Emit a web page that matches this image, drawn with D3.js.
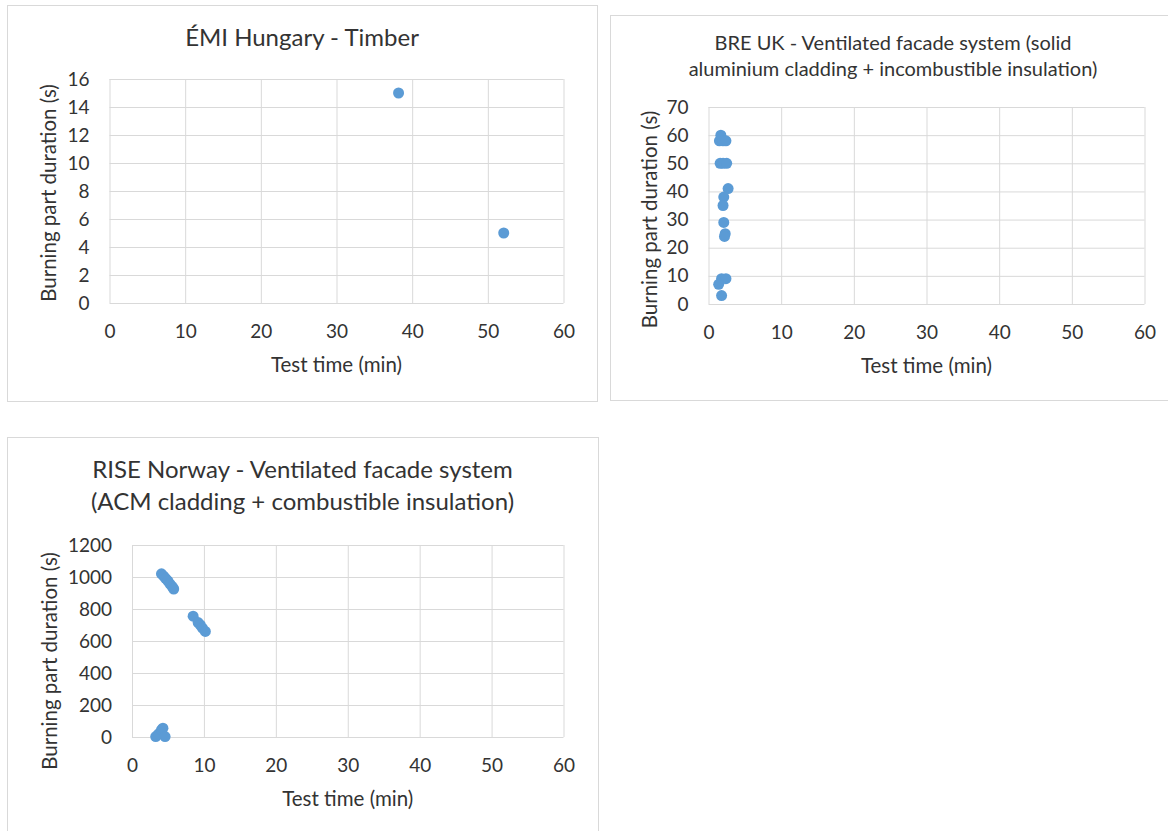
<!DOCTYPE html>
<html>
<head>
<meta charset="utf-8">
<script src="https://cdn.jsdelivr.net/npm/d3@7/dist/d3.min.js"></script>
<style>
  body { margin: 0; background: #fff; }
  text { font-family: Lato, "Open Sans", sans-serif; fill: #333; }
</style>
</head>
<body>
<div id="chart"></div>
<script>
// ---------------- DATA ----------------
var timberTime = [38.2, 52.1];
var timberBurn = [15, 5];

var breTime = [1.5, 1.7, 2.0, 2.4, 1.6, 2.0, 2.5, 2.7, 2.1, 2.0, 2.1, 2.3, 2.2, 1.8, 2.4, 1.4, 1.8];
var breBurn = [58, 60, 58, 58, 50, 50, 50, 41, 38, 35, 29, 25, 24, 9, 9, 7, 3];

var riseTime = [4.1, 4.4, 4.7, 5.0, 5.3, 5.6, 5.8, 8.5, 9.2, 9.5, 9.8, 10.2, 3.3, 3.7, 4.1, 4.3, 4.6];
var riseBurn = [1020, 1005, 990, 975, 955, 940, 925, 755, 715, 700, 680, 660, 3, 20, 45, 55, 3];

var timeTicks = [0, 10, 20, 30, 40, 50, 60];
var timberTicks = [0, 2, 4, 6, 8, 10, 12, 14, 16];
var breTicks = [0, 10, 20, 30, 40, 50, 60, 70];
var riseTicks = [0, 200, 400, 600, 800, 1000, 1200];

var xTitle = "Test time (min)";
var yTitle = "Burning part duration (s)";

// ---------------- SVG ----------------
var svg = d3.select("#chart")
    .append("svg")
    .attr("width", 1168)
    .attr("height", 831);

var dotColor = "#5b9bd5",
    gridColor = "#d9d9d9";

// one Excel-like scatter panel
function panel(cfg) {
    var g = svg.append("g");

    // chart area frame
    g.append("rect")
        .attr("x", cfg.frame[0] + 0.5).attr("y", cfg.frame[1] + 0.5)
        .attr("width", cfg.frame[2]).attr("height", cfg.frame[3])
        .attr("fill", "#fff")
        .attr("stroke", gridColor);

    var x = d3.scaleLinear().domain([0, 60]).range([cfg.plot[0], cfg.plot[2]]);
    var y = d3.scaleLinear().domain(cfg.yDomain).range([cfg.plot[3], cfg.plot[1]]);

    // gridlines
    g.append("g")
        .attr("transform", "translate(0," + cfg.plot[3] + ")")
        .call(d3.axisBottom(x).tickValues(timeTicks).tickSize(-(cfg.plot[3] - cfg.plot[1])).tickFormat(""))
        .call(function (a) { a.select(".domain").remove(); })
        .selectAll("line").attr("stroke", gridColor);

    g.append("g")
        .attr("transform", "translate(" + cfg.plot[0] + ",0)")
        .call(d3.axisLeft(y).tickValues(cfg.yTicks).tickSize(-(cfg.plot[2] - cfg.plot[0])).tickFormat(""))
        .call(function (a) { a.select(".domain").remove(); })
        .selectAll("line").attr("stroke", gridColor);

    // tick labels
    var xa = g.append("g")
        .attr("transform", "translate(0," + cfg.plot[3] + ")")
        .call(d3.axisBottom(x).tickValues(timeTicks).tickSize(0).tickPadding(22).tickFormat(d3.format("d")));
    xa.select(".domain").remove();
    xa.selectAll("text").style("font-size", "19px").attr("fill", null);

    var ya = g.append("g")
        .attr("transform", "translate(" + cfg.plot[0] + ",0)")
        .call(d3.axisLeft(y).tickValues(cfg.yTicks).tickSize(0).tickPadding(20).tickFormat(d3.format("d")));
    ya.select(".domain").remove();
    ya.selectAll("text").style("font-size", "19px").attr("fill", null);

    // axis titles
    g.append("text")
        .attr("x", (cfg.plot[0] + cfg.plot[2]) / 2)
        .attr("y", cfg.plot[3] + 69)
        .attr("text-anchor", "middle")
        .style("font-size", "20.5px")
        .text(xTitle);

    g.append("text")
        .attr("transform", "translate(" + cfg.yTitleX + "," + ((cfg.plot[1] + cfg.plot[3]) / 2 + cfg.yTitleShift) + ") rotate(-90)")
        .attr("text-anchor", "middle")
        .style("font-size", "20.5px")
        .text(yTitle);

    // chart title, centred on the chart area
    var cx = cfg.frame[0] + cfg.frame[2] / 2;
    cfg.title.forEach(function (line, i) {
        g.append("text")
            .attr("x", cx)
            .attr("y", cfg.titleY + i * cfg.titleGap)
            .attr("text-anchor", "middle")
            .style("font-size", cfg.titleSize + "px")
            .text(line);
    });

    // points
    var pts = cfg.xs.map(function (d, i) { return { t: d, b: cfg.ys[i] }; });
    g.selectAll(".dot")
        .data(pts)
        .enter().append("circle")
        .attr("class", "dot")
        .attr("cx", function (d) { return x(d.t); })
        .attr("cy", function (d) { return y(d.b); })
        .attr("r", 5.5)
        .attr("fill", dotColor);
}

panel({
    frame: [7, 5, 590, 396],
    plot: [109.5, 79, 563.5, 303],
    yDomain: [0, 16], yTicks: timberTicks,
    title: ["ÉMI Hungary - Timber"], titleY: 46, titleGap: 0, titleSize: 24,
    yTitleX: 56, yTitleShift: 2,
    xs: timberTime, ys: timberBurn
});

panel({
    frame: [610, 15, 566, 385],
    plot: [708.5, 107, 1144.5, 304],
    yDomain: [0, 70], yTicks: breTicks,
    title: ["BRE UK - Ventilated facade system (solid", "aluminium cladding + incombustible insulation)"],
    titleY: 50, titleGap: 26, titleSize: 20,
    yTitleX: 657, yTitleShift: 14,
    xs: breTime, ys: breBurn
});

panel({
    frame: [7, 437, 591, 400],
    plot: [132, 545, 563.5, 737],
    yDomain: [0, 1200], yTicks: riseTicks,
    title: ["RISE Norway - Ventilated facade system", "(ACM cladding + combustible insulation)"],
    titleY: 478, titleGap: 32, titleSize: 24,
    yTitleX: 57, yTitleShift: 20,
    xs: riseTime, ys: riseBurn
});
</script>
</body>
</html>
